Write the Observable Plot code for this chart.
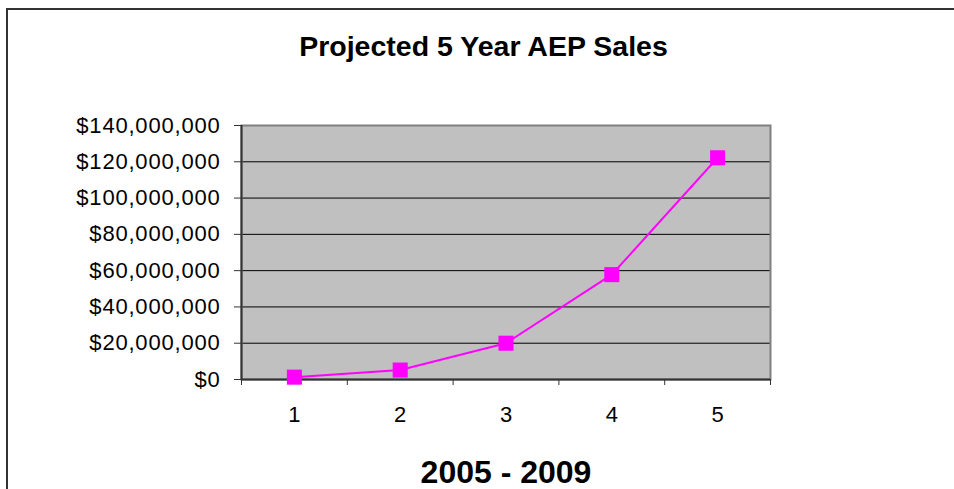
<!DOCTYPE html>
<html>
<head>
<meta charset="utf-8">
<script src="https://cdn.jsdelivr.net/npm/d3@7"></script>
<script src="https://cdn.jsdelivr.net/npm/@observablehq/plot@0.6"></script>
<style>
  html, body { margin: 0; padding: 0; background: #fff; }
  #wrap { position: relative; width: 954px; height: 489px; overflow: hidden; }
  #border { position: absolute; left: 6px; top: 8px; width: 1000px; height: 600px; border: 2px solid #333; box-sizing: border-box; }
  #chart { position: absolute; left: 0; top: 0; }
  svg { font-family: "Liberation Sans", Arial, sans-serif; }
</style>
</head>
<body>
<div id="wrap"><div id="border"></div><div id="chart"></div></div>
<script>
const title = "Projected 5 Year AEP Sales";
const xLabel = "2005 - 2009";
const categories = [1, 2, 3, 4, 5];
const sales = [1300000, 5200000, 20000000, 57800000, 122200000];
const yTicks = [0, 20000000, 40000000, 60000000, 80000000, 100000000, 120000000, 140000000];
const xBounds = [0.5, 1.5, 2.5, 3.5, 4.5, 5.5];

const data = categories.map((c, i) => ({x: c, y: sales[i]}));
const fmt = d => "$" + d3.format(",")(d);

const plot = Plot.plot({
  width: 954,
  height: 489,
  marginLeft: 241,
  marginRight: 184,
  marginTop: 125,
  marginBottom: 110,
  style: {background: "transparent", overflow: "visible"},
  x: {domain: [0.5, 5.5]},
  y: {domain: [0, 140000000]},
  marks: [
    Plot.frame({fill: "#c0c0c0", stroke: "none"}),
    Plot.ruleY(yTicks.slice(1, -1), {stroke: "#000", strokeWidth: 1}),
    Plot.frame({stroke: "#808080", strokeWidth: 2}),
    Plot.ruleX([0.5], {stroke: "#333", strokeWidth: 2}),
    Plot.ruleY([0], {stroke: "#333", strokeWidth: 2}),
    Plot.axisY({ticks: yTicks, tickFormat: fmt, tickSize: 7, tickPadding: 14, stroke: "#333", strokeOpacity: 1, label: null}),
    Plot.axisX({ticks: xBounds, tickFormat: () => "", tickSize: 6, stroke: "#333", strokeOpacity: 1, label: null}),
    Plot.axisX({ticks: categories, tickFormat: d => String(d), tickSize: 0, tickPadding: 27, label: null}),
    Plot.line(data, {x: "x", y: "y", stroke: "#ff00ff", strokeWidth: 2}),
    Plot.dot(data, {x: "x", y: "y", symbol: "square", r: 8.5, fill: "#ff00ff", stroke: "none"}),
    Plot.text([title], {frameAnchor: "top-left", lineAnchor: "middle", dx: 242, dy: -79, textAnchor: "middle", fontSize: 28.5, fontWeight: "bold", fill: "#000"}),
    Plot.text([xLabel], {frameAnchor: "bottom", lineAnchor: "middle", dy: 93, textAnchor: "middle", fontSize: 32, fontWeight: "bold", fill: "#000"})
  ]
});
const svg = d3.select(plot);
svg.selectAll('g[aria-label="y-axis tick label"]')
  .attr("font-size", 22).style("font-size", "22px").style("letter-spacing", "0.8px").attr("fill", "#000");
svg.selectAll('g[aria-label="x-axis tick label"]')
  .attr("font-size", 22).style("font-size", "22px").attr("fill", "#000");
document.getElementById("chart").appendChild(plot);
</script>
</body>
</html>
